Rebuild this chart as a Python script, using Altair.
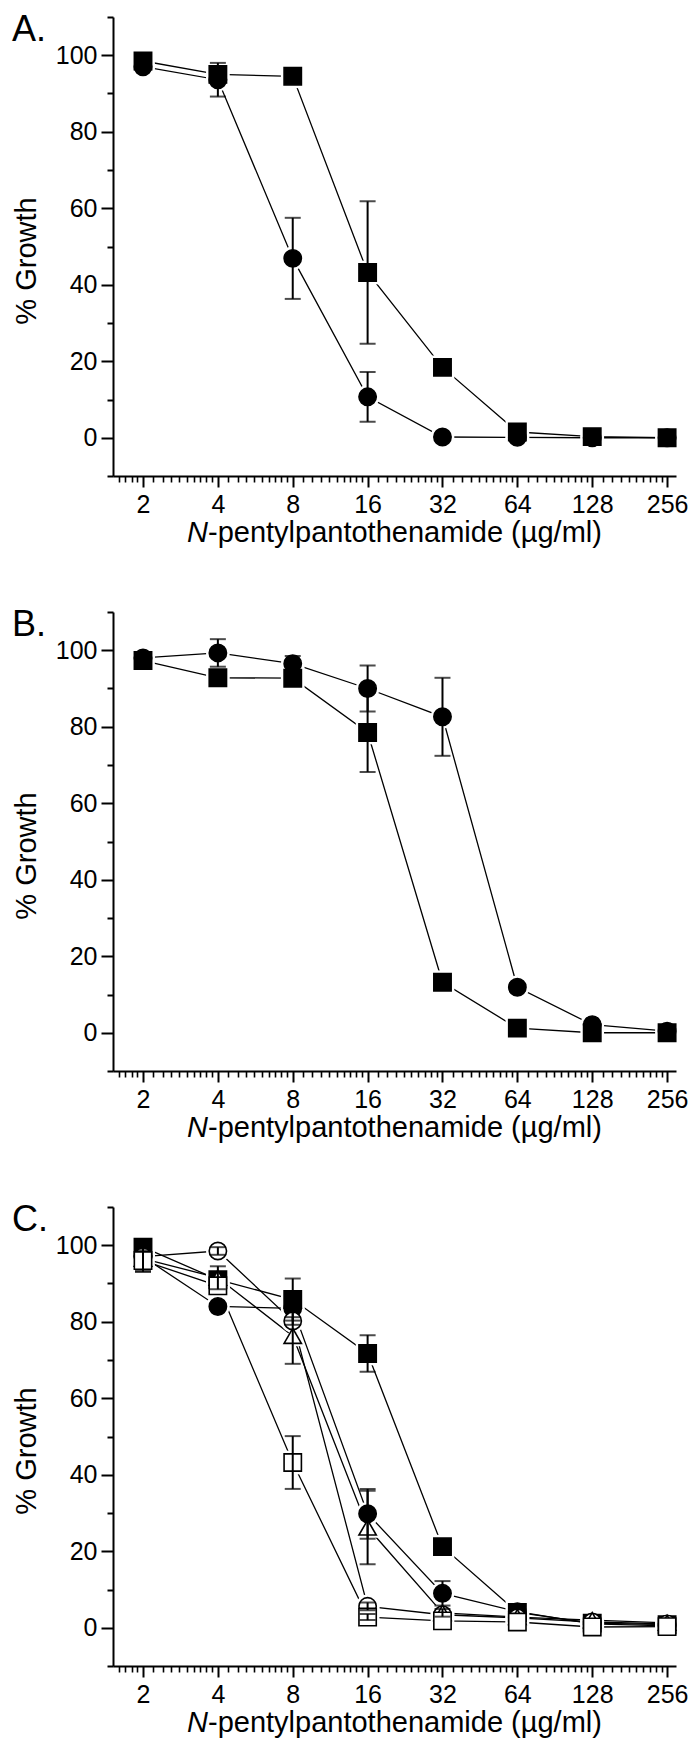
import altair as alt
import pandas as pd

FONT = "Liberation Sans, Arial, Helvetica, sans-serif"

# ---------------- data ----------------
conc = [2, 4, 8, 16, 32, 64, 128, 256]
x_tick_labels = [2, 4, 8, 16, 32, 64, 128, 256]
y_major = [0, 20, 40, 60, 80, 100]
y_minor = [-10, 10, 30, 50, 70, 90, 110]
panel_labels = ["A.", "B.", "C."]
x_title_italic = "N"
x_title_rest = "-pentylpantothenamide (\u00b5g/ml)"
y_title = "% Growth"

series_keys = ["fsq", "fci", "oci", "otr", "osq"]
series_shapes = ["square", "circle", "circle", "triangle-up", "square"]
series_fills = ["black", "black", "white", "white", "white"]

# Panel A
a_fsq = [98.5, 95.0, 94.5, 43.2, 18.4, 1.5, 0.3, 0.0]
a_fsq_err = [0, 0, 0, 18.6, 0, 0, 0, 0]
a_fci = [97.0, 93.6, 46.9, 10.7, 0.2, 0.1, 0.0, 0.0]
a_fci_err = [0, 4.4, 10.6, 6.5, 0, 0, 0, 0]

# Panel B
b_fsq = [97.3, 92.8, 92.7, 78.5, 13.2, 1.2, 0.0, 0.0]
b_fsq_err = [0, 0, 0, 10.3, 0, 0, 0, 0]
b_fci = [98.0, 99.3, 96.5, 90.0, 82.6, 11.9, 2.1, 0.4]
b_fci_err = [0, 3.6, 2.0, 6.0, 10.2, 1.0, 0, 0]

# Panel C
c_fsq = [99.5, 91.0, 85.8, 71.7, 21.2, 4.0, 1.2, 0.8]
c_fsq_err = [0, 0, 5.5, 4.8, 0, 0, 0, 0]
c_fci = [97.0, 84.0, 83.5, 29.8, 9.0, 4.2, 1.0, 0.5]
c_fci_err = [0, 0, 0, 6.5, 3.2, 0, 0, 0]
c_oci = [97.0, 98.5, 80.2, 5.6, 3.4, 2.6, 1.5, 1.0]
c_oci_err = [0, 1.0, 1.0, 1.0, 0, 0, 0, 0]
c_otr = [96.5, 91.5, 76.3, 26.2, 3.9, 2.8, 2.0, 1.3]
c_otr_err = [3.5, 3.0, 7.3, 9.6, 1.0, 0, 0, 0]
c_osq = [96.0, 89.4, 43.2, 2.8, 1.8, 1.5, 0.2, 0.3]
c_osq_err = [2.7, 0, 6.9, 0.8, 0, 0, 0, 0]

# minor ticks of the log2 axis (linear subdivisions of every octave)
x_minor = [1.6, 1.7, 1.8, 1.9]
for k in range(1, 8):
    for i in range(1, 10):
        x_minor.append(2 ** k * (1 + i / 10))

W, H = 563, 459


def make_df(series):
    rows = []
    for key, vals, errs in series:
        for c, v, e in zip(conc, vals, errs):
            rows.append({"series": key, "conc": c, "value": v, "err": e})
    return pd.DataFrame(rows)


xscale = alt.Scale(type="log", base=2, domain=[1.515, 278], nice=False)
yscale = alt.Scale(domain=[-10, 110], nice=False, zero=False)
shape_scale = alt.Scale(domain=series_keys, range=series_shapes)
fill_scale = alt.Scale(domain=series_keys, range=series_fills)

x_major_axis = alt.Axis(values=x_tick_labels, format="d", orient="bottom", grid=False,
                        tickSize=11, tickWidth=2, tickColor="black", domainWidth=2,
                        domainColor="black", labelFontSize=25, labelFont=FONT,
                        labelColor="black", labelPadding=5, labelOverlap=False,
                        labelFlush=False)
x_minor_axis = alt.Axis(values=x_minor, orient="bottom", grid=False, labels=False,
                        domain=False, tickSize=6, tickWidth=1.6, tickColor="black")
y_major_axis = alt.Axis(values=y_major, orient="left", grid=False, tickSize=12,
                        tickWidth=2, tickColor="black", domainWidth=2,
                        domainColor="black", labelFontSize=25, labelFont=FONT,
                        labelColor="black", labelPadding=4, labelOverlap=False)
y_minor_axis = alt.Axis(values=y_minor, orient="left", grid=False, labels=False,
                        domain=False, tickSize=6, tickWidth=2, tickColor="black")


def panel(df, label):
    base = alt.Chart(df)
    xn = alt.X("conc:Q", scale=xscale, axis=None)
    yn = alt.Y("value:Q", scale=yscale, axis=None)
    shape = alt.Shape("series:N", scale=shape_scale, legend=None)

    lines = base.mark_line(color="black", strokeWidth=1.3).encode(
        x=alt.X("conc:Q", scale=xscale, axis=x_major_axis, title=None),
        y=alt.Y("value:Q", scale=yscale, axis=y_major_axis, title=None),
        detail="series:N",
    )
    minor = base.mark_point(opacity=0).encode(
        x=alt.X("conc:Q", scale=xscale, axis=x_minor_axis, title=None),
        y=alt.Y("value:Q", scale=yscale, axis=y_minor_axis, title=None),
    )
    halo = base.mark_point(filled=True, color="white", size=560, opacity=1).encode(
        x=xn, y=yn, shape=shape)
    markers = base.mark_point(filled=True, stroke="black", strokeWidth=1.6,
                              size=300, opacity=1, fillOpacity=1).encode(
        x=xn, y=yn, shape=shape,
        fill=alt.Fill("series:N", scale=fill_scale, legend=None))
    eb = base.transform_filter("datum.err > 0").transform_calculate(
        lo="datum.value - datum.err", hi="datum.value + datum.err")
    rule = eb.mark_rule(color="black", strokeWidth=2).encode(
        x=xn, y=alt.Y("lo:Q", scale=yscale, axis=None), y2="hi:Q")
    cap_lo = eb.mark_tick(color="black", orient="horizontal", size=16,
                          thickness=2).encode(
        x=xn, y=alt.Y("lo:Q", scale=yscale, axis=None))
    cap_hi = eb.mark_tick(color="black", orient="horizontal", size=16,
                          thickness=2).encode(
        x=xn, y=alt.Y("hi:Q", scale=yscale, axis=None))

    lab = alt.Chart(pd.DataFrame({"t": [label]})).mark_text(
        align="left", baseline="top", fontSize=36, font=FONT,
        color="black").encode(text="t:N", x=alt.value(-101), y=alt.value(-4))
    ytitle = alt.Chart(pd.DataFrame({"t": [y_title]})).mark_text(
        align="center", baseline="alphabetic", angle=270, fontSize=29,
        font=FONT, color="black").encode(text="t:N", x=alt.value(-77),
                                         y=alt.value(244))
    xt1 = alt.Chart(pd.DataFrame({"t": [x_title_italic]})).mark_text(
        align="right", baseline="alphabetic", fontSize=29, fontStyle="italic",
        font=FONT, color="black").encode(text="t:N", x=alt.value(95),
                                         y=alt.value(H + 66))
    xt2 = alt.Chart(pd.DataFrame({"t": [x_title_rest]})).mark_text(
        align="left", baseline="alphabetic", fontSize=29,
        font=FONT, color="black").encode(text="t:N", x=alt.value(95),
                                         y=alt.value(H + 66))

    return alt.layer(lines, minor, halo, markers, rule, cap_lo, cap_hi,
                     lab, ytitle, xt1, xt2).resolve_axis(
        x="independent", y="independent").properties(width=W, height=H)


dfA = make_df([("fsq", a_fsq, a_fsq_err), ("fci", a_fci, a_fci_err)])
dfB = make_df([("fsq", b_fsq, b_fsq_err), ("fci", b_fci, b_fci_err)])
dfC = make_df([("fsq", c_fsq, c_fsq_err), ("fci", c_fci, c_fci_err),
               ("oci", c_oci, c_oci_err), ("otr", c_otr, c_otr_err),
               ("osq", c_osq, c_osq_err)])

chart = alt.vconcat(
    panel(dfA, panel_labels[0]),
    panel(dfB, panel_labels[1]),
    panel(dfC, panel_labels[2]),
    spacing=136,
    bounds="flush",
).properties(padding={"top": 4, "left": 4, "right": 0, "bottom": 0},
             background="white").configure_view(stroke=None)

chart.save("out.html", embed_options={"renderer": "svg", "actions": False})
